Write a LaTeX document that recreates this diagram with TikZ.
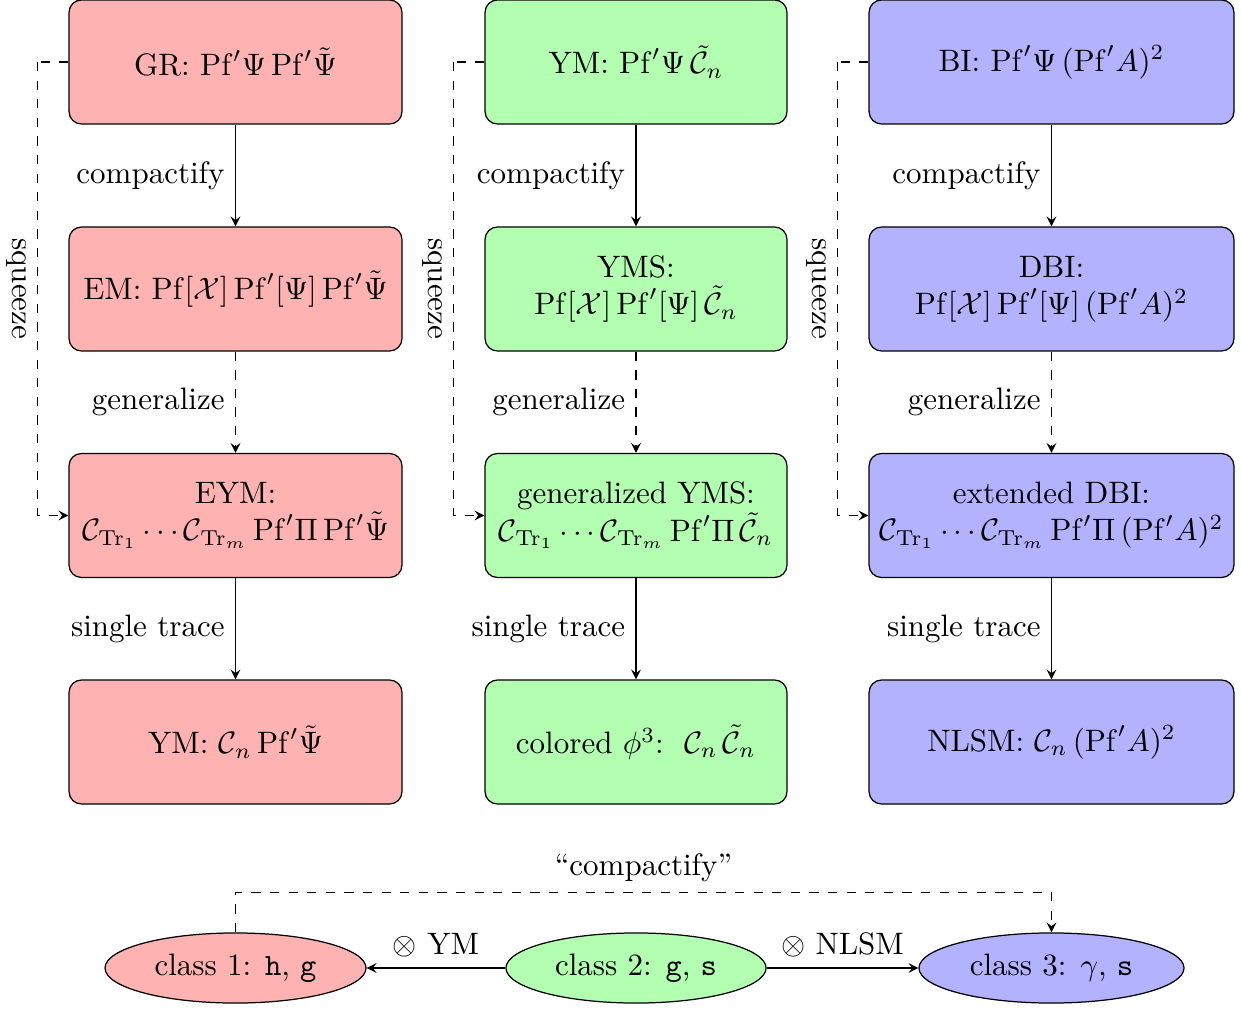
\documentclass[tikz,border=0pt]{standalone}
\usetikzlibrary{shapes.geometric,arrows}
\begin{document}
\begin{tikzpicture}[x=0.32258pt,y=-0.32258pt,
  box/.style={draw,rounded corners=4pt,align=center,minimum height=40pt,inner sep=3pt},
  rbox/.style={box,fill=red!30,minimum width=107.4pt},
  gbox/.style={box,fill=green!30,minimum width=97.4pt},
  bbox/.style={box,fill=blue!30,minimum width=117.7pt},
  cls/.style={draw,ellipse,minimum height=22.6pt,inner sep=1pt},
  arr/.style={-stealth},
  darr/.style={dashed,-stealth},
  sq/.style={pos=0.25,anchor=north,rotate=-90}]
\useasboundingbox (0,0) rectangle (1241,1010);
% red column
\node[rbox] (r1) at (235.5,62) {GR: $\mathrm{Pf}'\Psi\,\mathrm{Pf}'\tilde\Psi$};
\node[rbox] (r2) at (235.5,289) {EM: $\mathrm{Pf}[\mathcal{X}]\,\mathrm{Pf}'[\Psi]\,\mathrm{Pf}'\tilde\Psi$};
\node[rbox] (r3) at (235.5,515.5) {EYM:\\ $\mathcal{C}_{\mathrm{Tr}_1}\cdots\mathcal{C}_{\mathrm{Tr}_m}\,\mathrm{Pf}'\Pi\,\mathrm{Pf}'\tilde\Psi$};
\node[rbox] (r4) at (235.5,742) {YM: $\mathcal{C}_n\,\mathrm{Pf}'\tilde\Psi$};
% green column
\node[gbox] (g1) at (636,62) {YM: $\mathrm{Pf}'\Psi\,\tilde{\mathcal{C}}_n$};
\node[gbox] (g2) at (636,289) {YMS:\\ $\mathrm{Pf}[\mathcal{X}]\,\mathrm{Pf}'[\Psi]\,\tilde{\mathcal{C}}_n$};
\node[gbox] (g3) at (636,515.5) {generalized YMS:\\ $\mathcal{C}_{\mathrm{Tr}_1}\cdots\mathcal{C}_{\mathrm{Tr}_m}\,\mathrm{Pf}'\Pi\,\tilde{\mathcal{C}}_n$};
\node[gbox] (g4) at (636,742) {colored $\phi^3$:\ \ $\mathcal{C}_n\,\tilde{\mathcal{C}}_n$};
% blue column
\node[bbox] (b1) at (1051.5,62) {BI: $\mathrm{Pf}'\Psi\,(\mathrm{Pf}'A)^2$};
\node[bbox] (b2) at (1051.5,289) {DBI:\\ $\mathrm{Pf}[\mathcal{X}]\,\mathrm{Pf}'[\Psi]\,(\mathrm{Pf}'A)^2$};
\node[bbox] (b3) at (1051.5,515.5) {extended DBI:\\ $\mathcal{C}_{\mathrm{Tr}_1}\cdots\mathcal{C}_{\mathrm{Tr}_m}\,\mathrm{Pf}'\Pi\,(\mathrm{Pf}'A)^2$};
\node[bbox] (b4) at (1051.5,742) {NLSM: $\mathcal{C}_n\,(\mathrm{Pf}'A)^2$};
% vertical arrows
\foreach \c in {r,g,b}{
  \draw[arr] (\c1) -- node[left]{compactify} (\c2);
  \draw[darr] (\c2) -- node[left]{generalize} (\c3);
  \draw[arr] (\c3) -- node[left]{single trace} (\c4);
  \draw[dashed] (\c1.west) -- ++(-31,0) coordinate (s\c);
  \draw[darr] (s\c) |- node[sq]{squeeze} (\c3.west);
}
% bottom classes
\node[cls,fill=red!30,minimum width=84.2pt] (c1) at (235.5,968) {class 1: \texttt{h}, \texttt{g}};
\node[cls,fill=green!30,minimum width=83.9pt] (c2) at (636,968) {class 2: \texttt{g}, \texttt{s}};
\node[cls,fill=blue!30,minimum width=85.5pt] (c3) at (1051.5,968) {class 3: $\gamma$, \texttt{s}};
\draw[arr] (c2) -- node[above]{$\otimes$ YM} (c1);
\draw[arr] (c2) -- node[above]{$\otimes$ NLSM} (c3);
\draw[darr] (c1.north) -- ++(0,-40) -| node[pos=0.25,above]{``compactify''} (c3.north);
\end{tikzpicture}
\end{document}
